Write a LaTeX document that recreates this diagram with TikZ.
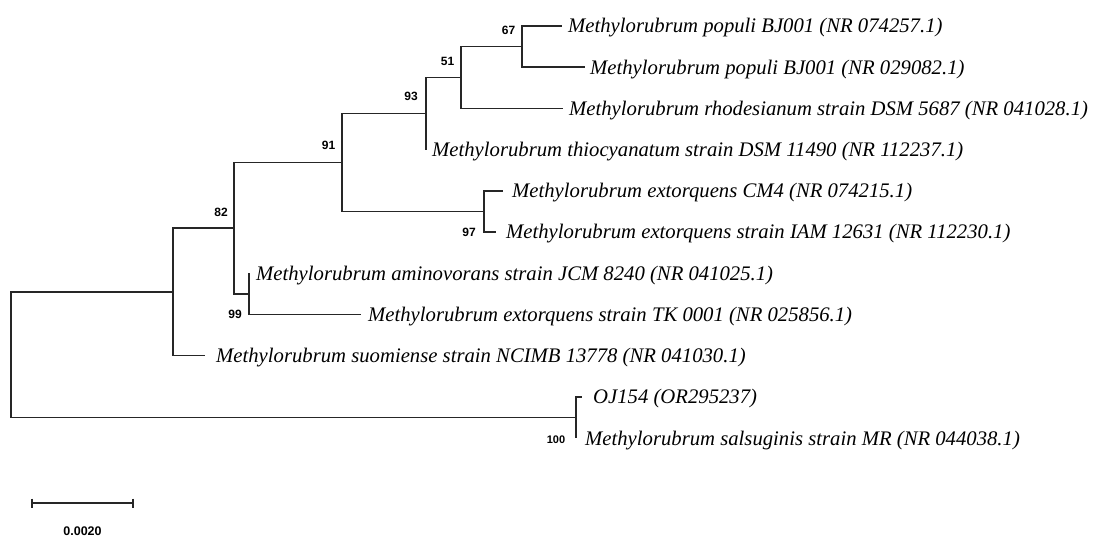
\documentclass[tikz,border=0pt]{standalone}
\usepackage{fontspec}
\setmainfont{Liberation Serif}
\newfontfamily\labfont{Liberation Sans}
\begin{document}
\begin{tikzpicture}[x=1pt,y=-1pt,
  br/.style={line width=1.7pt,draw=black!85,line join=miter},
  leaf/.style={anchor=base west,inner sep=0pt,font=\itshape\fontsize{20.7}{22}\selectfont},
  boot/.style={inner sep=0pt,font=\labfont\bfseries\fontsize{12}{13}\selectfont},
  scl/.style={inner sep=0pt,font=\labfont\bfseries\fontsize{12.5}{13}\selectfont}]
\useasboundingbox (0,0) rectangle (1093,537);
% internal nodes
\coordinate (n67) at (522,46.6);
\coordinate (n51) at (461,77.5);
\coordinate (n93) at (426,113.5);
\coordinate (n97) at (484,211.4);
\coordinate (n91) at (342,162.5);
\coordinate (n99) at (249,293.8);
\coordinate (n82) at (234,228.1);
\coordinate (nA) at (173,291.9);
\coordinate (n100) at (576,417.4);
\coordinate (root) at (11,354.6);
% leaf branch ends
\coordinate (t1) at (562,26);
\coordinate (t2) at (585,67.2);
\coordinate (t3) at (563,108.4);
\coordinate (t4) at (426,149.6);
\coordinate (t5) at (503,190.8);
\coordinate (t6) at (496,232);
\coordinate (t7) at (249,273.2);
\coordinate (t8) at (361,314.4);
\coordinate (t9) at (205,355.6);
\coordinate (t10) at (582,396.8);
\coordinate (t11) at (576,438);
% branches
\draw[br] (n67) |- (t1);
\draw[br] (n67) |- (t2);
\draw[br] (n51) |- (n67);
\draw[br] (n51) |- (t3);
\draw[br] (n93) |- (n51);
\draw[br] (n93) |- (t4);
\draw[br] (n97) |- (t5);
\draw[br] (n97) |- (t6);
\draw[br] (n91) |- (n93);
\draw[br] (n91) |- (n97);
\draw[br] (n99) |- (t7);
\draw[br] (n99) |- (t8);
\draw[br] (n82) |- (n91);
\draw[br] (n82) |- (n99);
\draw[br] (nA) |- (n82);
\draw[br] (nA) |- (t9);
\draw[br] (n100) |- (t10);
\draw[br] (n100) |- (t11);
\draw[br] (root) |- (nA);
\draw[br] (root) |- (n100);
% leaf labels
\node[leaf] (L1) at (568,33) {Methylorubrum populi BJ001 (NR 074257.1)};
\node[leaf] (L2) at (590,74.2) {Methylorubrum populi BJ001 (NR 029082.1)};
\node[leaf] (L3) at (569,115.4) {Methylorubrum rhodesianum strain DSM 5687 (NR 041028.1)};
\node[leaf] (L4) at (432,156.6) {Methylorubrum thiocyanatum strain DSM 11490 (NR 112237.1)};
\node[leaf] (L5) at (512,197.8) {Methylorubrum extorquens CM4 (NR 074215.1)};
\node[leaf] (L6) at (506,239) {Methylorubrum extorquens strain IAM 12631 (NR 112230.1)};
\node[leaf] (L7) at (256,280.2) {Methylorubrum aminovorans strain JCM 8240 (NR 041025.1)};
\node[leaf] (L8) at (368,321.4) {Methylorubrum extorquens strain TK 0001 (NR 025856.1)};
\node[leaf] (L9) at (216,362.6) {Methylorubrum suomiense strain NCIMB 13778 (NR 041030.1)};
\node[leaf] (L10) at (593,403.8) {OJ154 (OR295237)};
\node[leaf] (L11) at (585,445) {Methylorubrum salsuginis strain MR (NR 044038.1)};
% bootstrap values
\node[boot] (b67) at (508.5,30.5) {67};
\node[boot] (b51) at (447.5,61) {51};
\node[boot] (b93) at (411,96) {93};
\node[boot] (b91) at (328.5,145) {91};
\node[boot] (b82) at (221,212) {82};
\node[boot] (b97) at (469,232.5) {97};
\node[boot] (b99) at (235,314.5) {99};
\node[boot,font=\labfont\bfseries\fontsize{11}{12}\selectfont] (b100) at (556,440) {100};
% scale bar
\coordinate (s1) at (32,503);
\coordinate (s2) at (133,503);
\draw[br] (s1) -- (s2);
\draw[br] ([yshift=4.5pt]s1) -- ([yshift=-4.5pt]s1);
\draw[br] ([yshift=4.5pt]s2) -- ([yshift=-4.5pt]s2);
\node[scl] (sl) at (82.5,531) {0.0020};
\end{tikzpicture}
\end{document}
